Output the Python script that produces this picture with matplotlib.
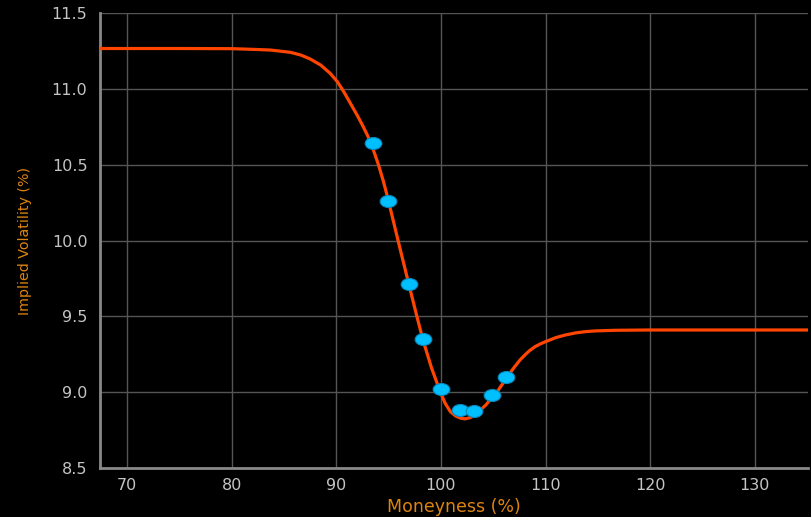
import numpy as np
import matplotlib
matplotlib.use("Agg")
import matplotlib.pyplot as plt
from matplotlib.path import Path
from matplotlib.transforms import Affine2D

# fitted smile curve
curve_x = [67.4, 70, 75, 80, 81.8, 83.7, 85.6, 86.6, 87.5, 88.5, 89.4, 90.1, 90.7,
           91.3, 92.0, 92.5, 93.0, 93.5, 94.0, 94.5, 94.9, 95.9, 96.9, 97.7,
           98.3, 99.1, 99.95, 100.4, 100.9, 101.4, 101.9, 102.3, 102.8, 103.3,
           103.8, 104.3, 104.7, 105.2, 105.7, 106.2, 106.7, 107.1, 107.6, 108.1,
           108.5, 109.0, 109.5, 110.0, 111.0, 111.9, 112.9, 113.8, 114.8, 116.7,
           120, 125, 130, 135.1]
curve_y = [11.266, 11.266, 11.266, 11.265, 11.261, 11.256, 11.241, 11.223, 11.197,
           11.157, 11.103, 11.047, 10.982, 10.91, 10.825, 10.76, 10.69, 10.605,
           10.505, 10.39, 10.285, 10.00, 9.72, 9.50, 9.34, 9.16, 9.00, 8.927,
           8.872, 8.843, 8.828, 8.824, 8.832, 8.850, 8.883, 8.916, 8.949, 8.985,
           9.035, 9.085, 9.135, 9.172, 9.215, 9.250, 9.275, 9.300, 9.318, 9.333,
           9.360, 9.377, 9.391, 9.399, 9.404, 9.408, 9.41, 9.41, 9.41, 9.41]

# market quotes
quote_x = [93.5, 94.9, 96.9, 98.3, 100.0, 101.8, 103.2, 104.9, 106.2]
quote_y = [10.645, 10.26, 9.71, 9.35, 9.02, 8.88, 8.875, 8.98, 9.10]

x_ticks = [70, 80, 90, 100, 110, 120, 130]
y_ticks = [8.5, 9.0, 9.5, 10.0, 10.5, 11.0, 11.5]

fig = plt.figure(figsize=(8.11, 5.17), dpi=100, facecolor="black")
ax = fig.add_axes([0.1233, 0.0948, 0.873, 0.880], facecolor="black")

ax.grid(True, color="#555555", linewidth=1.0)
ax.set_axisbelow(True)

ax.plot(curve_x, curve_y, color="#ff4500", linewidth=2.3, zorder=3,
        solid_joinstyle="round")

# the dots in the picture are slightly squashed ellipses
circ = Path.unit_circle()
ellipse = circ.transformed(Affine2D().scale(1.0, 0.72))
ax.plot(quote_x, quote_y, linestyle="none", marker=ellipse, markersize=12,
        markerfacecolor="#00bfff", markeredgecolor="#0a86b8", markeredgewidth=0.8,
        zorder=4)

ax.set_xlim(67.4, 135.1)
ax.set_ylim(8.5, 11.5)
ax.set_xticks(x_ticks)
ax.set_yticks(y_ticks)
ax.set_yticklabels([f"{v:.1f}" for v in y_ticks])

ax.tick_params(axis="both", length=0, colors="#c4c4c4", labelsize=11.5)
ax.tick_params(axis="y", pad=9)
ax.tick_params(axis="x", pad=7)

for side in ["top", "right"]:
    ax.spines[side].set_visible(False)
for side in ["left", "bottom"]:
    ax.spines[side].set_color("#888888")
    ax.spines[side].set_linewidth(2)

ax.set_xlabel("Moneyness (%)", color="#dd8411", fontsize=12.5, labelpad=4)
ax.set_ylabel("Implied Volatility (%)", color="#dd8411", fontsize=10.3,
              labelpad=14)

fig.savefig("out.png", dpi=100, facecolor="black")
